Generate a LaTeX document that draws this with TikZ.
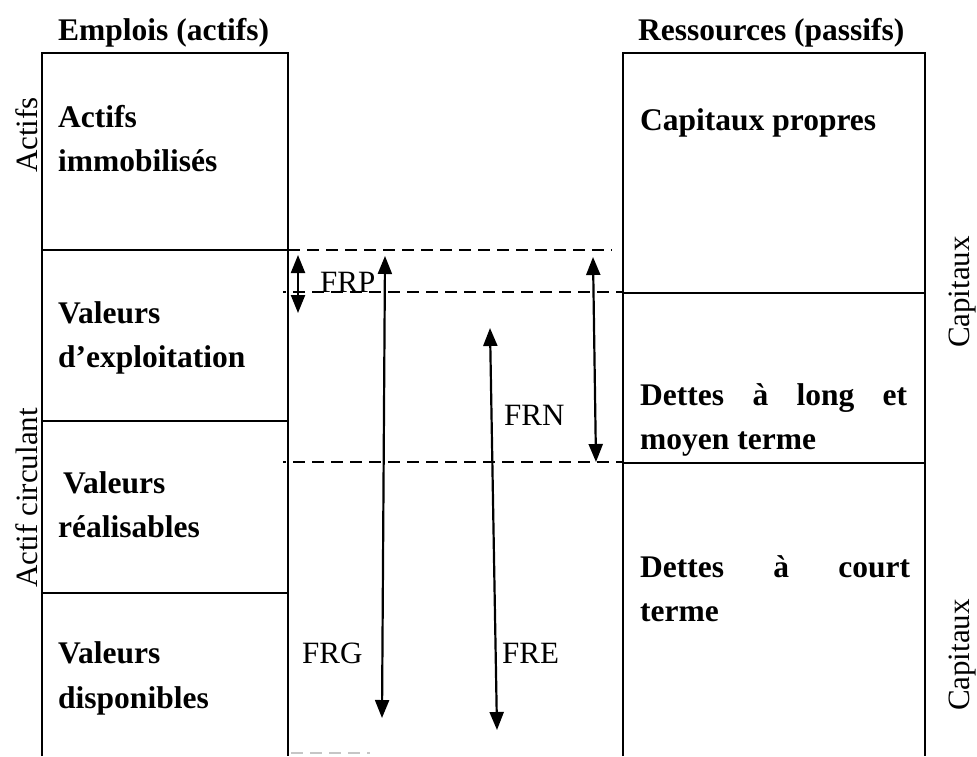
\documentclass[tikz,border=0pt]{standalone}
\usepackage{fontspec}
\setmainfont{Liberation Serif}
\usetikzlibrary{arrows.meta}
\begin{document}
\begin{tikzpicture}[x=1pt,y=-1pt,
  box/.style={line width=2.5pt},
  dashline/.style={line width=2.4pt, dash pattern=on 12pt off 7pt},
  arr/.style={line width=2.2pt, {Triangle[width=14pt,length=18pt]}-{Triangle[width=14pt,length=18pt]}},
  lbl/.style={inner sep=0pt, font=\fontsize{31}{36}\selectfont},
  blbl/.style={inner sep=0pt, anchor=base west, font=\fontsize{31.5}{36}\selectfont\bfseries},
  rlbl/.style={lbl, rotate=90, anchor=base},
  ]
\useasboundingbox (0,0) rectangle (977,756);

% columns
\draw[box] (42,756) -- (42,53) -- (288,53) -- (288,756);
\draw[box] (623,756) -- (623,53) -- (925,53) -- (925,756);
\draw[box] (42,250) -- (288,250);
\draw[box] (42,421) -- (288,421);
\draw[box] (42,593) -- (288,593);
\draw[box] (623,293) -- (925,293);
\draw[box] (623,463) -- (925,463);

% headings
\node[blbl] (emp) at (58,40) {Emplois (actifs)};
\node[blbl] (res) at (638,40) {Ressources (passifs)};

% side labels
\node[rlbl] (act) at (37,135) {Actifs};
\node[rlbl] (actc) at (37,498) {Actif circulant};
\node[rlbl] (cap1) at (969,292) {Capitaux};
\node[rlbl] (cap2) at (969,655) {Capitaux};

% left column texts
\node[blbl] (l1a) at (58,127) {Actifs};
\node[blbl] (l1b) at (58,171) {immobilisés};
\node[blbl] (l2a) at (58,323) {Valeurs};
\node[blbl] (l2b) at (58,367) {d’exploitation};
\node[blbl] (l3a) at (63,493) {Valeurs};
\node[blbl] (l3b) at (58,537) {réalisables};
\node[blbl] (l4a) at (58,663) {Valeurs};
\node[blbl] (l4b) at (58,708) {disponibles};

% right column texts
\node[blbl] (r1) at (640,130) {Capitaux propres};
\node[blbl] (r2a) at (640,405) {\hbox to 267pt{Dettes\hfill à\hfill long\hfill et}};
\node[blbl] (r2b) at (640,449) {moyen terme};
\node[blbl] (r3a) at (640,577) {\hbox to 270pt{Dettes\hfill à\hfill court}};
\node[blbl] (r3b) at (640,621) {terme};

% dashed lines
\coordinate (d1a) at (288,250); \coordinate (d1b) at (612,250);
\coordinate (d2a) at (283,292); \coordinate (d2b) at (623,292);
\coordinate (d3a) at (283,462); \coordinate (d3b) at (623,462);
\draw[dashline] (d1a) -- (d1b);
\draw[dashline, dash phase=9pt] (d2a) -- (d2b);
\draw[dashline, dash phase=9pt] (d3a) -- (d3b);
\coordinate (d4a) at (291,753); \coordinate (d4b) at (370,753);
\draw[dashline, gray!45] (d4a) -- (d4b);

% arrows
\coordinate (frpT) at (298,255); \coordinate (frpB) at (298,313);
\coordinate (frgT) at (385,256); \coordinate (frgB) at (382,718);
\coordinate (freT) at (490,328); \coordinate (freB) at (497,730);
\coordinate (frnT) at (593,257); \coordinate (frnB) at (596,462);
\draw[arr] (frpT) -- (frpB);
\draw[arr] (frgT) -- (frgB);
\draw[arr] (freT) -- (freB);
\draw[arr] (frnT) -- (frnB);

% arrow labels
\node[lbl, anchor=base west] (frp) at (320,292) {FRP};
\node[lbl, anchor=base west] (frn) at (504,425) {FRN};
\node[lbl, anchor=base west] (frg) at (302,663) {FRG};
\node[lbl, anchor=base west] (fre) at (502,663) {FRE};
\end{tikzpicture}
\end{document}
